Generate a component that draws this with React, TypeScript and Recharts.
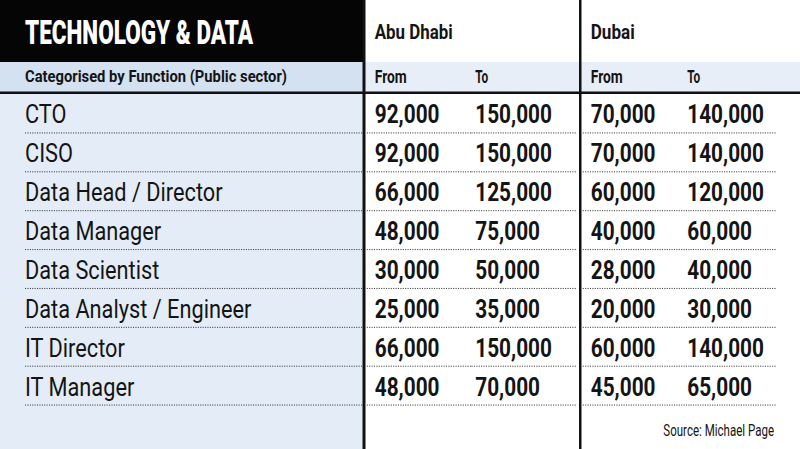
import React from 'react';
import { ScatterChart, Scatter, XAxis, YAxis } from 'recharts';

// ---------- data ----------
const TITLE = 'TECHNOLOGY & DATA';
const SUBTITLE = 'Categorised by Function (Public sector)';
const CITIES = ['Abu Dhabi', 'Dubai'];
const COLUMN_LABELS = ['From', 'To', 'From', 'To'];
const SOURCE = 'Source: Michael Page';

const ROLES = [
  'CTO',
  'CISO',
  'Data Head / Director',
  'Data Manager',
  'Data Scientist',
  'Data Analyst / Engineer',
  'IT Director',
  'IT Manager',
];
const ABU_DHABI_FROM = [92000, 92000, 66000, 48000, 30000, 25000, 66000, 48000];
const ABU_DHABI_TO = [150000, 150000, 125000, 75000, 50000, 35000, 150000, 70000];
const DUBAI_FROM = [70000, 70000, 60000, 40000, 28000, 20000, 60000, 45000];
const DUBAI_TO = [140000, 140000, 120000, 60000, 40000, 30000, 140000, 65000];

const SERIES = [ABU_DHABI_FROM, ABU_DHABI_TO, DUBAI_FROM, DUBAI_TO];

// ---------- layout / style ----------
const W = 800;
const H = 449;
const FONT = 'Roboto, "Noto Sans", "Liberation Sans", sans-serif';
const LEFT_W = 362; // width of the label column (YAxis width)
const MARGIN = { top: 94, right: 0, bottom: 44, left: 0 };
const PLOT_W = W - LEFT_W - MARGIN.right;
const COL_UNIT = PLOT_W / 4;
const colCenter = (k: number) => LEFT_W + COL_UNIT * (k + 0.5);
const COL_DX = [-42, -51, -45, -58];
const DOT_SEG = [
  [-50, COL_UNIT / 2],
  [-COL_UNIT / 2, 50],
  [-53, COL_UNIT / 2],
  [-COL_UNIT / 2, 31],
];
const TEXT = '#141414';
const DOT_COLOR = '#3a3a3a';
const DASH = '1.1 1.3';
const VALUE_SX = 0.8;
const ROLE_SX = 0.87;

const fmt = (v: number) => v.toLocaleString('en-US');

const CondText = ({ x, y, sx, children, ...rest }: any) => (
  <text x={0} y={0} transform={`translate(${x},${y}) scale(${sx},1)`} {...rest}>
    {children}
  </text>
);

const RoleTick = (props: any) => {
  const { y, payload } = props;
  return (
    <g>
      <CondText x={25} y={y + 10} sx={ROLE_SX} fontFamily={FONT} fontSize={25} fill={TEXT}>
        {payload.value}
      </CondText>
      <line x1={25} x2={362} y1={y + 19.5} y2={y + 19.5} stroke={DOT_COLOR} strokeWidth={1} strokeDasharray={DASH} />
    </g>
  );
};

const makeCell = (k: number) => (props: any) => {
  const { cx, cy, payload } = props;
  if (cx == null || cy == null) return <g />;
  return (
    <g>
      <CondText
        x={cx + COL_DX[k]}
        y={cy + 10}
        sx={VALUE_SX}
        fontFamily={FONT}
        fontSize={26}
        fontWeight={700}
        fill={TEXT}
      >
        {fmt(payload.value)}
      </CondText>
      <line
        x1={cx + DOT_SEG[k][0]}
        x2={cx + DOT_SEG[k][1]}
        y1={cy + 19.5}
        y2={cy + 19.5}
        stroke={DOT_COLOR}
        strokeWidth={1}
        strokeDasharray={DASH}
      />
    </g>
  );
};

const seriesData = SERIES.map((arr, k) => ROLES.map((role, i) => ({ x: k, role, value: arr[i] })));

const Background = () => (
  <svg width={W} height={H} style={{ position: 'absolute', left: 0, top: 0 }}>
    <rect x={0} y={0} width={W} height={H} fill="#ffffff" />
    <rect x={0} y={62} width={364} height={H - 62} fill="#e4edf7" />
    <rect x={0} y={62} width={364} height={30} fill="#d4e1f0" />
    <rect x={364} y={62} width={W - 364} height={30} fill="#e7eef8" />
    <rect x={0} y={0} width={365} height={62} fill="#050505" />
    <rect x={0} y={91.5} width={W} height={2.5} fill="#111" />
    <rect x={362.5} y={0} width={3} height={H} fill="#111" />
    <rect x={579} y={0} width={2.5} height={H} fill="#111" />
    <text x={25} y={44} fill="#fff" fontFamily={FONT} fontWeight={900} fontSize={34} textLength={228} lengthAdjust="spacingAndGlyphs">
      {TITLE}
    </text>
    <text x={25} y={82} fill={TEXT} fontFamily={FONT} fontWeight={700} fontSize={16} textLength={262} lengthAdjust="spacingAndGlyphs">
      {SUBTITLE}
    </text>
    <text x={colCenter(0) + COL_DX[0]} y={39} fill={TEXT} fontFamily={FONT} fontWeight={700} fontSize={20} textLength={78} lengthAdjust="spacingAndGlyphs">
      {CITIES[0]}
    </text>
    <text x={colCenter(2) + COL_DX[2]} y={39} fill={TEXT} fontFamily={FONT} fontWeight={700} fontSize={20} textLength={44} lengthAdjust="spacingAndGlyphs">
      {CITIES[1]}
    </text>
    {COLUMN_LABELS.map((lab, k) => (
      <text
        key={k}
        x={colCenter(k) + COL_DX[k]}
        y={82.5}
        fill={TEXT}
        fontFamily={FONT}
        fontWeight={700}
        fontSize={17.5}
        textLength={lab === 'From' ? 32 : 13}
        lengthAdjust="spacingAndGlyphs"
      >
        {lab}
      </text>
    ))}
    <CondText x={774} y={436} sx={0.72} textAnchor="end" fill={TEXT} fontFamily={FONT} fontSize={16}>
      {SOURCE}
    </CondText>
  </svg>
);

export default function App() {
  return (
    <div style={{ position: 'absolute', left: 0, top: 0, width: W, height: H, overflow: 'hidden' }}>
      <Background />
      <div style={{ position: 'absolute', left: 0, top: 0 }}>
        <ScatterChart width={W} height={H} margin={MARGIN}>
          <XAxis type="number" dataKey="x" domain={[-0.5, 3.5]} hide />
          <YAxis
            type="category"
            dataKey="role"
            width={LEFT_W}
            axisLine={false}
            tickLine={false}
            allowDuplicatedCategory={false}
            interval={0}
            tick={<RoleTick />}
            reversed
          />
          {seriesData.map((d, k) => (
            <Scatter key={k} data={d} shape={makeCell(k)} isAnimationActive={false} />
          ))}
        </ScatterChart>
      </div>
    </div>
  );
}
